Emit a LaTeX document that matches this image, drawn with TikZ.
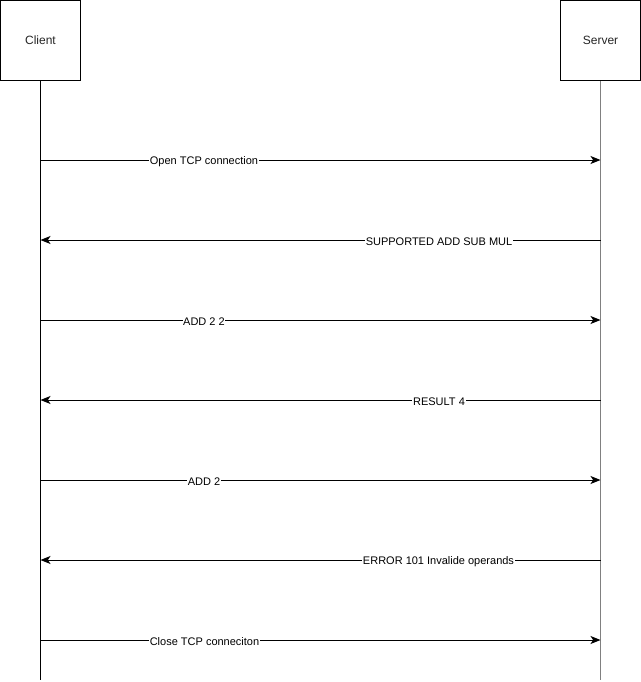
\documentclass[tikz,border=0pt]{standalone}
\usepackage{fontspec}
\setmainfont{Liberation Sans}
\usetikzlibrary{arrows.meta}
\begin{document}
\begin{tikzpicture}[x=0.75pt,y=-0.75pt,
  actor/.style={draw=black,line width=0.75pt,fill=white,minimum width=60pt,minimum height=60pt,inner sep=0pt,font=\fontsize{9}{11}\selectfont,text=black!85},
  life/.style={line width=0.75pt},
  msg/.style={line width=0.75pt,-{Stealth[length=7.5pt,width=6pt,inset=2pt]}},
  lbl/.style={fill=white,inner xsep=0.5pt,inner ysep=1pt,yshift=-1.2pt,font=\fontsize{8.25}{10}\selectfont}]
\useasboundingbox (0,0) rectangle (641,682);
\node[actor] (client) at (40.5,40.5) {Client};
\node[actor] (server) at (600.5,40.5) {Server};
\coordinate (cend) at (40.5,680);
\coordinate (send) at (600.5,680);
\draw[life] (client.south) -- (cend);
\draw[life,draw=black!50] (server.south) -- (send);
% message anchors
\foreach \y/\n in {160/a,240/b,320/c,400/d,480/e,560/f,640/g}{
  \coordinate (c\n) at (40.5,\y);
  \coordinate (s\n) at (600.5,\y);
}
\draw[msg] (ca) -- (sa);
\node[lbl] (la) at (204,160) {Open TCP connection};
\draw[msg] (sb) -- (cb);
\node[lbl] (lb) at (439,240) {SUPPORTED ADD SUB MUL};
\draw[msg] (cc) -- (sc);
\node[lbl] (lc) at (204,320) {ADD 2 2};
\draw[msg] (sd) -- (cd);
\node[lbl] (ld) at (439,400) {RESULT 4};
\draw[msg] (ce) -- (se);
\node[lbl] (le) at (204,480) {ADD 2};
\draw[msg] (sf) -- (cf);
\node[lbl] (lf) at (438.5,560) {ERROR 101 Invalide operands};
\draw[msg] (cg) -- (sg);
\node[lbl] (lg) at (204.5,640) {Close TCP conneciton};
\end{tikzpicture}
\end{document}
